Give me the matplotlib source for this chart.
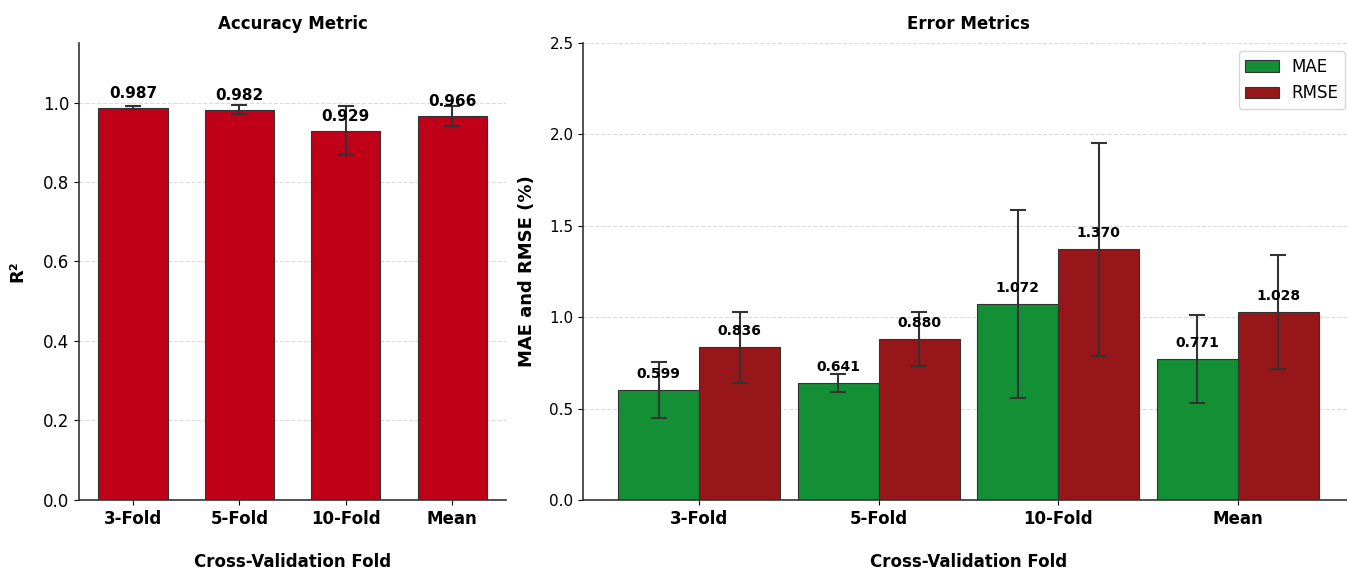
import numpy as np
import matplotlib.pyplot as plt

# Datos
folds = ['3-Fold', '5-Fold', '10-Fold', 'Mean']
r2 = [0.987, 0.982, 0.929, 0.966]
r2_err = [0.003, 0.011, 0.061, 0.025]
mae = [0.599, 0.641, 1.072, 0.771]
mae_err = [0.153, 0.048, 0.513, 0.240]
rmse = [0.836, 0.880, 1.370, 1.028]
rmse_err = [0.194, 0.148, 0.580, 0.310]

c_r2 = '#C00018'
c_mae = '#138F36'
c_rmse = '#961619'
c_err = '#333333'

fig = plt.figure(figsize=(13.47, 5.72), dpi=100)
ax1 = fig.add_axes([0.0587, 0.126, 0.317, 0.799])
ax2 = fig.add_axes([0.433, 0.126, 0.572, 0.799])

x = np.arange(len(folds))

# Panel izquierdo: R²
ax1.bar(x, r2, width=0.65, color=c_r2, edgecolor='#333333', linewidth=0.8,
        yerr=r2_err, capsize=6, error_kw=dict(ecolor=c_err, elinewidth=1.5, capthick=1.5))
for xi, v in zip(x, r2):
    ax1.text(xi, v + 0.018, f'{v:.3f}', ha='center', va='bottom', fontsize=11, fontweight='bold')
ax1.set_ylim(0, 1.15)
ax1.set_yticks(np.arange(0, 1.01, 0.2))
ax1.set_xticks(x)
ax1.set_xticklabels(folds, fontsize=12, fontweight='bold')
ax1.set_ylabel('R²', fontsize=13, fontweight='bold', labelpad=12)
ax1.set_xlabel('Cross-Validation Fold', fontsize=12, fontweight='bold', labelpad=18)
ax1.set_title('Accuracy Metric', fontsize=12, fontweight='bold', pad=10)
ax1.tick_params(axis='y', labelsize=12)

# Panel derecho: MAE y RMSE
w = 0.45
ax2.bar(x - w/2, mae, width=w, color=c_mae, edgecolor='#333333', linewidth=0.8, label='MAE',
        yerr=mae_err, capsize=6, error_kw=dict(ecolor=c_err, elinewidth=1.5, capthick=1.5))
ax2.bar(x + w/2, rmse, width=w, color=c_rmse, edgecolor='#333333', linewidth=0.8, label='RMSE',
        yerr=rmse_err, capsize=6, error_kw=dict(ecolor=c_err, elinewidth=1.5, capthick=1.5))
for xi, v in zip(x - w/2, mae):
    ax2.text(xi, v + 0.05, f'{v:.3f}', ha='center', va='bottom', fontsize=10, fontweight='bold')
for xi, v in zip(x + w/2, rmse):
    ax2.text(xi, v + 0.05, f'{v:.3f}', ha='center', va='bottom', fontsize=10, fontweight='bold')
ax2.set_ylim(0, 2.5)
ax2.set_xticks(x)
ax2.set_xticklabels(folds, fontsize=12, fontweight='bold')
ax2.set_ylabel('MAE and RMSE (%)', fontsize=13, fontweight='bold', labelpad=10)
ax2.set_xlabel('Cross-Validation Fold', fontsize=12, fontweight='bold', labelpad=18)
ax2.set_title('Error Metrics', fontsize=12, fontweight='bold', pad=10)
ax2.tick_params(axis='y', labelsize=11)
ax2.legend(loc='upper right', fontsize=12)

for ax in (ax1, ax2):
    ax.spines['top'].set_visible(False)
    ax.spines['right'].set_visible(False)
    ax.spines['left'].set_color('#333333')
    ax.spines['bottom'].set_color('#333333')
    ax.spines['left'].set_linewidth(1.2)
    ax.spines['bottom'].set_linewidth(1.2)
    ax.grid(axis='y', linestyle='--', color='#cccccc', alpha=0.7, linewidth=0.8)
    ax.set_axisbelow(True)

fig.savefig('out.png', dpi=100)
